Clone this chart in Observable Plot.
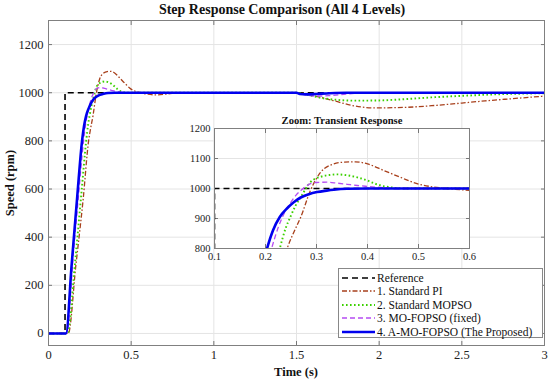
<!DOCTYPE html>
<html>
<head>
<meta charset="utf-8">
<script src="https://cdn.jsdelivr.net/npm/d3@7"></script>
<script src="https://cdn.jsdelivr.net/npm/@observablehq/plot@0.6"></script>
<style>
  body { margin: 0; background: #fff; font-family: "Liberation Serif", "Times New Roman", serif; }
  #wrap { position: relative; width: 550px; height: 382px; overflow: hidden; background: #fff; }
  #wrap > * { position: absolute; }
  #wrap svg text { font-family: "Liberation Serif", "Times New Roman", serif !important; }
  .ttl { font-weight: bold; color: #111; text-align: center; white-space: nowrap; }
  #legend { background: #fff; border: 1px solid #888; box-sizing: border-box; padding: 2px 0 0 3px; }
  .row { display: flex; align-items: center; height: 13.5px; font-size: 11.5px; color: #111; white-space: nowrap; }
  .row svg { margin-right: 2px; }
</style>
</head>
<body>
<div id="wrap">
  <div id="main"></div>
  <div id="inset"></div>
  <div class="ttl" style="left:132px;top:1px;width:300px;font-size:14px;line-height:18px;">Step Response Comparison (All 4 Levels)</div>
  <div class="ttl" style="left:246px;top:364px;width:100px;font-size:12.5px;line-height:16px;">Time (s)</div>
  <div class="ttl" style="left:-40px;top:175px;width:100px;font-size:12.5px;line-height:16px;transform:rotate(-90deg);">Speed (rpm)</div>
  <div class="ttl" style="left:192px;top:114px;width:300px;font-size:10.6px;line-height:14px;">Zoom: Transient Response</div>
  <div id="legend" style="left:338px;top:268px;width:205px;height:70px;"></div>
</div>
<script>
// ---- tick values ----
const xTicks = [0, 0.5, 1, 1.5, 2, 2.5, 3];
const yTicks = [0, 200, 400, 600, 800, 1000, 1200];
const insetXTicks = [0.1, 0.2, 0.3, 0.4, 0.5, 0.6];
const insetYTicks = [800, 900, 1000, 1100, 1200];

// ---- series names ----
const seriesNames = ["Reference", "1. Standard PI", "2. Standard MOPSO", "3. MO-FOPSO (fixed)", "4. A-MO-FOPSO (The Proposed)"];

// ---- data (time s, speed rpm) ----
const refT = [0, 0.1, 0.1, 3];
const refV = [0, 0, 1000, 1000];

const piT = [0, 0.1, 0.12, 0.165, 0.21, 0.2425, 0.256, 0.269, 0.288, 0.308, 0.334, 0.355, 0.376, 0.4, 0.432, 0.465, 0.497, 0.53, 0.556, 0.6, 0.65, 0.72, 0.8, 1.5, 1.55, 1.62, 1.73, 1.83, 1.97, 2.15, 2.335, 2.5, 2.64, 2.8, 3];
const piV = [0, 0, 0, 280, 560, 800, 856, 904, 993, 1054, 1082, 1088, 1089, 1082, 1060, 1037, 1016, 1005, 1000, 994, 991, 995, 1000, 1000, 996, 985, 966, 948, 937, 939, 947, 957, 966, 975, 986];

const mopsoT = [0, 0.1, 0.115, 0.16, 0.2, 0.228, 0.24, 0.249, 0.259, 0.269, 0.288, 0.31, 0.325, 0.34, 0.36, 0.38, 0.399, 0.415, 0.431, 0.45, 0.47, 0.5, 1.5, 1.55, 1.6, 1.67, 1.75, 1.85, 2.0, 2.15, 2.3, 2.5, 2.7, 2.85, 3];
const mopsoV = [0, 0, 0, 290, 590, 800, 870, 906, 943, 971, 1021, 1040, 1045, 1047, 1044, 1037, 1027, 1016, 1008, 1003, 1000, 1000, 1000, 994, 986, 976, 970, 967, 968, 973, 980, 987, 993, 996, 998];

const fopsoT = [0, 0.1, 0.11, 0.15, 0.18, 0.212, 0.226, 0.239, 0.25, 0.26, 0.269, 0.28, 0.288, 0.3, 0.32, 0.34, 0.36, 0.38, 0.4, 0.43, 0.465, 0.5, 1.5, 1.53, 1.58, 1.63, 1.7, 1.8, 1.93, 3];
const fopsoV = [0, 0, 0, 330, 560, 800, 875, 925, 955, 978, 993, 1008, 1016, 1020, 1021, 1018, 1014, 1010, 1007, 1003, 1000, 1000, 1000, 994, 988, 986, 988, 994, 1000, 1000];

const amoT = [0, 0.1, 0.106, 0.14, 0.174, 0.203, 0.215, 0.228, 0.243, 0.256, 0.269, 0.285, 0.301, 0.32, 0.334, 0.36, 0.4, 0.5, 1.5, 1.52, 1.56, 1.62, 1.7, 1.8, 3];
const amoV = [0, 0, 0, 285, 570, 800, 862, 905, 935, 955, 970, 981, 988, 993, 996, 999, 1000, 1000, 1000, 995, 993, 995, 998, 1000, 1000];

// ---- styles ----
const styles = [
  {stroke: "#000000", strokeWidth: 1.6, dash: "6,4", curve: "linear"},
  {stroke: "#A8401C", strokeWidth: 1.3, dash: "5,2,1.5,2", curve: "monotone-x"},
  {stroke: "#3CD000", strokeWidth: 1.9, dash: "1.6,2.4", curve: "monotone-x"},
  {stroke: "#B54CF2", strokeWidth: 1.3, dash: "5,3", curve: "monotone-x"},
  {stroke: "#0000EE", strokeWidth: 2.6, dash: null, curve: "monotone-x"}
];
const seriesT = [refT, piT, mopsoT, fopsoT, amoT];
const seriesV = [refV, piV, mopsoV, fopsoV, amoV];
const seriesData = seriesT.map((ts, i) => ts.map((t, j) => ({t, v: seriesV[i][j]})));

function lineMarks() {
  return seriesData.map((data, i) => Plot.line(data, {
    x: "t", y: "v", stroke: styles[i].stroke, strokeWidth: styles[i].strokeWidth,
    strokeDasharray: styles[i].dash, strokeLinecap: "butt", curve: styles[i].curve, clip: true
  }));
}

function axesMarks(xt, yt, pad) {
  const fmt = d => String(d);
  return [
    Plot.frame({fill: "white", stroke: "none"}),
    Plot.gridX(xt, {stroke: "#e4e4e4", strokeOpacity: 1}),
    Plot.gridY(yt, {stroke: "#e4e4e4", strokeOpacity: 1}),
    Plot.axisX(xt, {anchor: "bottom", tickSize: -4, tickPadding: pad, tickFormat: fmt, label: null, stroke: "#777", fill: "#222"}),
    Plot.axisY(yt, {anchor: "left", tickSize: -4, tickPadding: pad, tickFormat: fmt, label: null, stroke: "#777", fill: "#222"}),
    Plot.axisX(xt, {anchor: "top", tickSize: -4, tickFormat: () => "", label: null, stroke: "#777"}),
    Plot.axisY(yt, {anchor: "right", tickSize: -4, tickFormat: () => "", label: null, stroke: "#777"})
  ];
}

const main = Plot.plot({
  width: 550, height: 368,
  marginTop: 6, marginBottom: 37, marginLeft: 48, marginRight: 6,
  style: "font-family: 'Liberation Serif', serif; font-size: 12.5px; background: transparent; overflow: visible;",
  x: {domain: [0, 3]},
  y: {domain: [-50, 1300]},
  marks: [
    ...axesMarks(xTicks, yTicks, 9),
    ...lineMarks(),
    Plot.frame({stroke: "#808080"})
  ]
});
const mainDiv = document.getElementById("main");
mainDiv.style.left = "0px"; mainDiv.style.top = "14px";
mainDiv.appendChild(main);

const inset = Plot.plot({
  width: 289, height: 140,
  marginTop: 4, marginBottom: 16, marginLeft: 30, marginRight: 4,
  style: "font-family: 'Liberation Serif', serif; font-size: 10.5px; background: transparent; overflow: visible;",
  x: {domain: [0.1, 0.6]},
  y: {domain: [800, 1200]},
  marks: [
    ...axesMarks(insetXTicks, insetYTicks, 8),
    ...lineMarks(),
    Plot.frame({stroke: "#808080"})
  ]
});
const insetDiv = document.getElementById("inset");
insetDiv.style.left = "184px"; insetDiv.style.top = "124px";
insetDiv.appendChild(inset);

// ---- legend ----
const legend = document.getElementById("legend");
seriesNames.forEach((name, i) => {
  const row = document.createElement("div");
  row.className = "row";
  const s = styles[i];
  row.innerHTML = `<svg width="33" height="10"><line x1="0" y1="5" x2="33" y2="5" stroke="${s.stroke}" stroke-width="${s.strokeWidth}" ${s.dash ? `stroke-dasharray="${s.dash}"` : ""}/></svg><span>${name}</span>`;
  legend.appendChild(row);
});
</script>
</body>
</html>
